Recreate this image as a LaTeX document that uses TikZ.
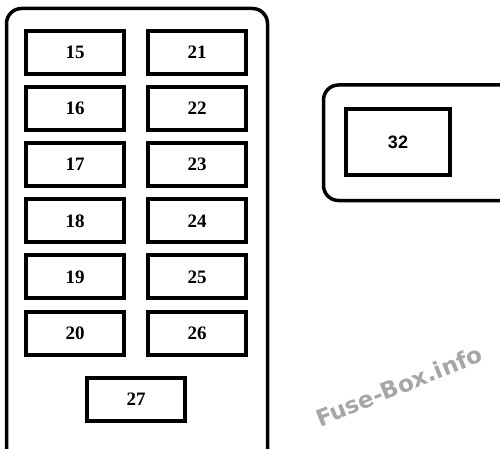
\documentclass[tikz,border=0pt]{standalone}
\usepackage{fontspec}
\newfontfamily\wmfont{DejaVu Sans}
\newfontfamily\fusefont{Liberation Serif}
\newfontfamily\labelfont{Liberation Sans}
\usetikzlibrary{positioning}

\begin{document}
\begin{tikzpicture}[x=1pt, y=-1pt,
    fuse/.style={draw, line width=4pt, minimum width=98pt, minimum height=43pt,
      inner sep=0pt, font=\fusefont\fontsize{19}{19}\selectfont\bfseries},
    housing/.style={line width=3.5pt, rounded corners=15pt}]

  \useasboundingbox (0,0) rectangle (500,449);

  % === Left housing (open at the bottom) ===
  \draw[housing] (6.5,460) -- (6.5,8.5) -- (267.5,8.5) -- (267.5,460);

  % Two columns of fuses
  \foreach \n [count=\i] in {15,...,20} {
    \pgfmathsetmacro{\yy}{52.5+56.1*(\i-1)}
    \node[fuse] (f\n) at (75,\yy) {\n};
  }
  \foreach \n [count=\i] in {21,...,26} {
    \pgfmathsetmacro{\yy}{52.5+56.1*(\i-1)}
    \node[fuse] (f\n) at (197,\yy) {\n};
  }

  % Bottom fuse
  \node[fuse] (f27) at (136,399.5) {27};

  % === Right housing (runs off the edge) ===
  \draw[housing] (510,85) -- (323.5,85) -- (323.5,200.5) -- (510,200.5);
  \node[fuse, minimum width=104pt, minimum height=66pt,
    font=\labelfont\fontsize{18}{18}\selectfont\bfseries] (f32) at (398,142) {32};

  % Watermark
  \node[rotate=22, text=black!35, font=\wmfont\fontsize{23}{23}\selectfont\bfseries]
    (wm) at (399,386) {Fuse-Box.info};

\end{tikzpicture}
\end{document}
